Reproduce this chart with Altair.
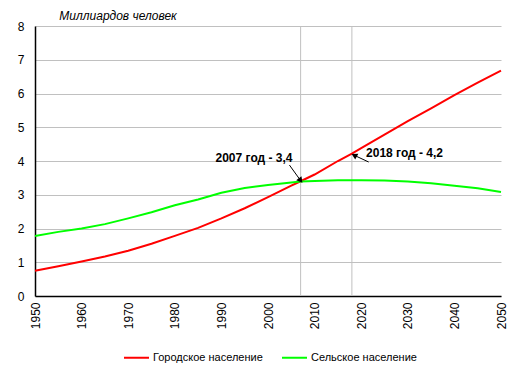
import altair as alt
import pandas as pd

years = [1950, 1955, 1960, 1965, 1970, 1975, 1980, 1985, 1990, 1995, 2000, 2005,
         2007, 2010, 2015, 2018, 2020, 2025, 2030, 2035, 2040, 2045, 2050]
urban = [0.75, 0.88, 1.02, 1.17, 1.34, 1.55, 1.78, 2.02, 2.30, 2.60, 2.93, 3.27,
         3.40, 3.60, 4.00, 4.22, 4.38, 4.78, 5.18, 5.56, 5.95, 6.32, 6.68]
rural = [1.78, 1.90, 2.00, 2.13, 2.30, 2.48, 2.69, 2.86, 3.06, 3.20, 3.29, 3.36,
         3.39, 3.41, 3.43, 3.43, 3.43, 3.42, 3.39, 3.34, 3.27, 3.19, 3.08]
series_names = ["Городское население", "Сельское население"]
series_colors = ["#FF0000", "#00FF00"]

marker_years = [2007, 2018]
ann_text = ["2007 год - 3,4", "2018 год - 4,2"]
ann_x = [1997.0, 2029.3]
ann_y = [4.09, 4.24]
arrow_x0 = [2004.6, 2021.6]
arrow_y0 = [3.88, 3.97]
arrow_x1 = [2007.0, 2018.5]
arrow_y1 = [3.42, 4.17]
arrow_angle = [142, 298]

x_ticks = list(range(1950, 2051, 10))
y_ticks = list(range(0, 9))

rows = []
for y, u, r in zip(years, urban, rural):
    rows.append({"year": y, "value": u, "series": series_names[0]})
    rows.append({"year": y, "value": r, "series": series_names[1]})
df = pd.DataFrame(rows)
ann = pd.DataFrame({"x": ann_x, "y": ann_y, "t": ann_text})
arr = pd.DataFrame({"x0": arrow_x0, "y0": arrow_y0, "x1": arrow_x1, "y1": arrow_y1,
                    "a": arrow_angle})
vl = pd.DataFrame({"year": marker_years})

FONT = "Liberation Sans"
xscale = alt.Scale(domain=[1950, 2050], nice=False, zero=False)
yscale = alt.Scale(domain=[0, 8], nice=False)

xaxis = alt.Axis(values=x_ticks, format="d", labelAngle=270, grid=False, ticks=False,
                 domainColor="black", domainWidth=1.5, labelFontSize=12, labelColor="black",
                 labelFont=FONT, labelPadding=6, title=None, labelFlush=False,
                 labelOverlap=False)
yaxis = alt.Axis(values=y_ticks, grid=True, gridColor="#C0C0C0", ticks=False,
                 domainColor="black", domainWidth=1.5, labelFontSize=12, labelColor="black",
                 labelFont=FONT, labelPadding=11, title=None, labelOverlap=False)

X = lambda f: alt.X(f, scale=xscale, axis=xaxis)
Y = lambda f: alt.Y(f, scale=yscale, axis=yaxis)

lines = alt.Chart(df).mark_line(strokeWidth=2).encode(
    x=X("year:Q"),
    y=Y("value:Q"),
    color=alt.Color("series:N",
                    scale=alt.Scale(domain=series_names, range=series_colors),
                    legend=alt.Legend(orient="none", legendX=88, legendY=318,
                                      direction="horizontal", title=None,
                                      symbolType="stroke", symbolSize=625,
                                      symbolStrokeWidth=2, labelFontSize=11,
                                      labelFont=FONT, labelColor="black",
                                      columnPadding=15, labelOffset=3)),
)

vrules = alt.Chart(vl).mark_rule(color="#C0C0C0", strokeWidth=1).encode(
    x=X("year:Q"),
    y=alt.value(0),
    y2=alt.value(270),
)

texts = alt.Chart(ann).mark_text(fontWeight="bold", fontSize=12, font=FONT,
                                 color="black").encode(
    x=X("x:Q"), y=Y("y:Q"), text="t:N")

arrow_lines = alt.Chart(arr).mark_rule(color="black", strokeWidth=1).encode(
    x=X("x0:Q"), y=Y("y0:Q"), x2="x1:Q", y2="y1:Q")

arrow_heads = alt.Chart(arr).mark_point(shape="triangle-up", filled=True, color="black",
                                        size=45, opacity=1).encode(
    x=X("x1:Q"), y=Y("y1:Q"), angle=alt.Angle("a:Q", scale=None))

chart = alt.layer(vrules, lines, arrow_lines, arrow_heads, texts).properties(
    width=466, height=270,
    title=alt.Title("Миллиардов человек", anchor="start", dx=42, offset=0, dy=3,
                    fontSize=12, fontStyle="italic", fontWeight="normal",
                    font=FONT, color="black"),
    autosize=alt.AutoSizeParams(type="none"),
    padding={"left": 27, "top": 18, "right": 6, "bottom": 70},
).configure_view(stroke=None)

chart.save("out.html", embed_options={"renderer": "svg", "actions": False})
